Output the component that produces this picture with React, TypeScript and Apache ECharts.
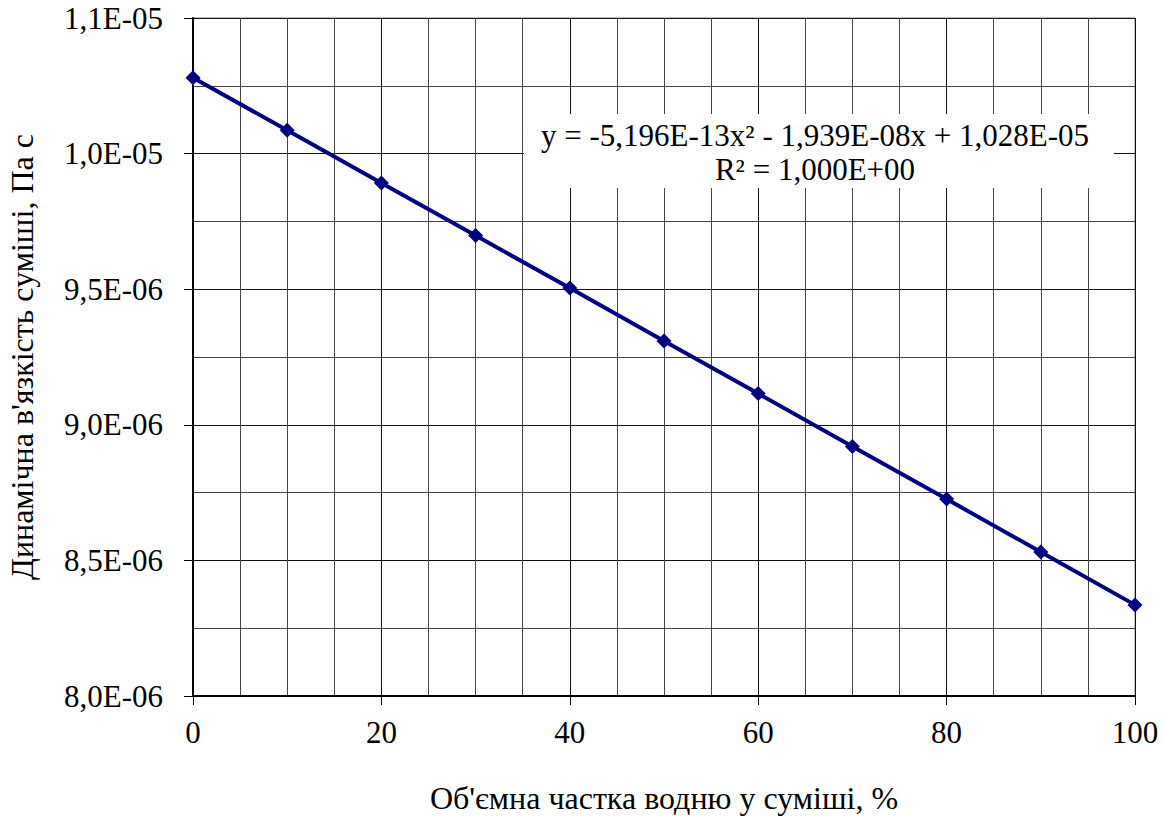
import React, { useEffect, useRef } from "react";
import * as echarts from "echarts";

const xValues = [0, 10, 20, 30, 40, 50, 60, 70, 80, 90, 100];
const viscosity = [
  1.0280e-5, 1.0086e-5, 9.892e-6, 9.698e-6, 9.504e-6, 9.309e-6, 9.115e-6, 8.920e-6, 8.726e-6,
  8.531e-6, 8.336e-6,
];
const yTickLabels = ["8,0E-06", "8,5E-06", "9,0E-06", "9,5E-06", "1,0E-05", "1,1E-05"];
const equationLine1 = "y = -5,196E-13x² - 1,939E-08x + 1,028E-05";
const equationLine2 = "R² = 1,000E+00";
const xTitle = "Об'ємна частка водню у суміші, %";
const yTitle = "Динамічна в'язкість суміші, Па с";

const FONT = "Liberation Serif";

export default function App() {
  const ref = useRef<HTMLDivElement>(null);
  useEffect(() => {
    if (!ref.current) return;
    const chart = echarts.init(ref.current, null, { renderer: "svg" });
    const yMin = 8e-6;
    const yStep = 5e-7;
    chart.setOption({
      animation: false,
      backgroundColor: "#ffffff",
      textStyle: { fontFamily: FONT },
      grid: {
        left: 193,
        right: 29,
        top: 18,
        bottom: 120,
        containLabel: false,
        outerBoundsMode: "none",
        show: true,
        borderColor: "#808080",
        borderWidth: 1,
      },
      xAxis: {
        type: "value",
        min: 0,
        max: 100,
        interval: 20,
        name: xTitle,
        nameLocation: "middle",
        nameGap: 88,
        nameTextStyle: { fontFamily: FONT, fontSize: 32, lineHeight: 28, color: "#000" },
        axisLine: { show: true, lineStyle: { color: "#000", width: 2 } },
        axisTick: { show: true, length: 9, lineStyle: { color: "#000", width: 1 } },
        axisLabel: { fontFamily: FONT, fontSize: 31, color: "#000", margin: 21 },
        splitLine: { show: true, lineStyle: { color: "#111", width: 1 } },
        minorTick: { show: false, splitNumber: 4 },
        minorSplitLine: { show: true, lineStyle: { color: "#444", width: 1 } },
      },
      yAxis: {
        type: "value",
        min: yMin,
        max: 1.05e-5,
        interval: yStep,
        name: yTitle,
        nameLocation: "middle",
        nameGap: 155,
        nameTextStyle: { fontFamily: FONT, fontSize: 32, color: "#000" },
        axisLine: { show: true, lineStyle: { color: "#000", width: 2 } },
        axisTick: { show: true, length: 9, lineStyle: { color: "#000", width: 1 } },
        axisLabel: {
          fontFamily: FONT,
          fontSize: 31,
          color: "#000",
          margin: 30,
          formatter: (v: number) => yTickLabels[Math.round((v - yMin) / yStep)] ?? "",
        },
        splitLine: { show: true, lineStyle: { color: "#111", width: 1 } },
        minorTick: { show: false, splitNumber: 2 },
        minorSplitLine: { show: true, lineStyle: { color: "#444", width: 1 } },
      },
      series: [
        {
          type: "line",
          data: xValues.map((x, i) => [x, viscosity[i]]),
          symbol: "diamond",
          symbolSize: 15,
          lineStyle: { color: "#000080", width: 4 },
          itemStyle: { color: "#000080" },
          z: 5,
        },
      ],
      graphic: [
        {
          type: "rect",
          shape: { x: 524, y: 114, width: 590, height: 74 },
          style: { fill: "#ffffff" },
          z: 100,
        },
        {
          type: "text",
          x: 815,
          y: 135,
          z: 101,
          style: {
            text: equationLine1,
            fontFamily: FONT,
            fontSize: 31,
            lineHeight: 28,
            fill: "#000",
            align: "center",
            verticalAlign: "middle",
          },
        },
        {
          type: "text",
          x: 815,
          y: 169,
          z: 101,
          style: {
            text: equationLine2,
            fontFamily: FONT,
            fontSize: 31,
            lineHeight: 28,
            fill: "#000",
            align: "center",
            verticalAlign: "middle",
          },
        },
      ],
    });
    return () => chart.dispose();
  }, []);
  return (
    <div
      ref={ref}
      style={{ position: "fixed", left: 0, top: 0, width: 1164, height: 816, background: "#fff" }}
    />
  );
}
